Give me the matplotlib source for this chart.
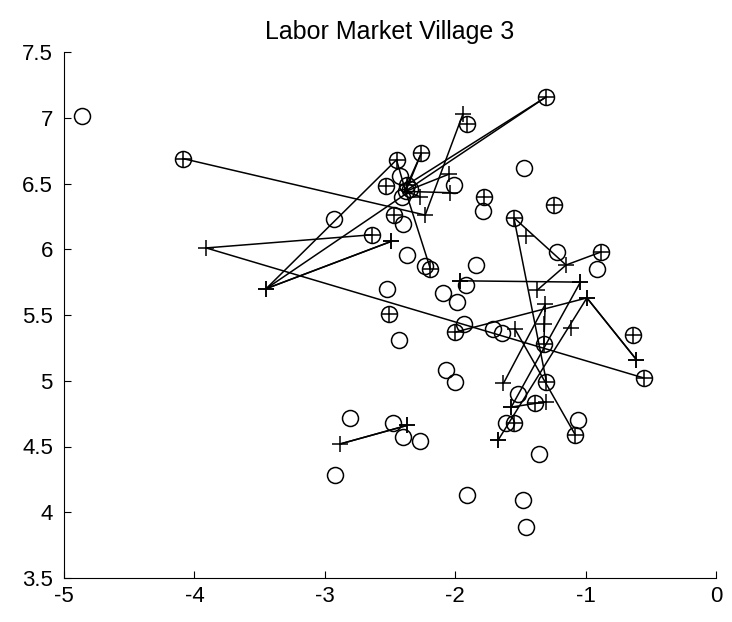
import matplotlib
matplotlib.use("Agg")
import matplotlib.pyplot as plt

# ---- data ----
circle_x = [-4.86, -4.09, -2.93, -2.45, -2.26, -2.42, -2.53, -2.37, -2.38, -2.41, -2.35,
            -2.47, -2.40, -2.64, -2.37, -2.19, -2.23, -2.01, -1.91, -1.30, -1.47, -1.78,
            -1.79, -1.24, -1.55, -1.22, -0.88, -0.91, -1.84, -1.92, -2.52, -2.09, -1.99,
            -2.51, -2.00, -1.93, -1.71, -1.64, -2.43, -0.64, -0.55, -1.32, -2.07, -2.00,
            -1.30, -1.52, -1.39, -1.61, -1.55, -1.06, -1.08, -1.36, -2.81, -2.48, -2.40,
            -2.27, -2.92, -1.91, -1.48, -1.46]
circle_y = [7.01, 6.69, 6.23, 6.68, 6.73, 6.56, 6.48, 6.49, 6.44, 6.40, 6.46,
            6.26, 6.19, 6.11, 5.96, 5.85, 5.87, 6.49, 6.95, 7.16, 6.62, 6.40,
            6.29, 6.34, 6.24, 5.98, 5.98, 5.85, 5.88, 5.73, 5.70, 5.67, 5.60,
            5.51, 5.37, 5.43, 5.39, 5.36, 5.31, 5.35, 5.02, 5.28, 5.08, 4.99,
            4.99, 4.90, 4.83, 4.68, 4.68, 4.70, 4.59, 4.44, 4.72, 4.68, 4.57,
            4.54, 4.28, 4.13, 4.09, 3.89]

plus_x = [-4.09, -2.45, -2.26, -2.53, -2.37, -2.47, -2.64, -2.19, -1.91, -1.30, -1.78,
          -1.24, -1.55, -0.88, -2.51, -2.00, -0.64, -0.55, -1.32, -1.30, -1.39, -1.55,
          -1.08,
          -3.91, -3.45, -3.45, -2.49, -2.49, -1.94, -2.05, -2.04, -2.27, -2.23, -1.46,
          -1.15, -1.04, -1.04, -1.37, -0.99, -0.99, -1.31, -1.32, -1.11, -1.54, -0.61,
          -0.61, -1.63, -1.30, -1.57, -1.57, -1.67, -1.67, -1.96, -1.96, -2.37, -2.37,
          -2.88]
plus_y = [6.69, 6.68, 6.73, 6.48, 6.49, 6.26, 6.11, 5.85, 6.95, 7.16, 6.40,
          6.34, 6.24, 5.98, 5.51, 5.37, 5.35, 5.02, 5.28, 4.99, 4.83, 4.68,
          4.59,
          6.01, 5.70, 5.70, 6.06, 6.06, 7.03, 6.57, 6.43, 6.40, 6.26, 6.10,
          5.88, 5.75, 5.75, 5.69, 5.63, 5.63, 5.58, 5.43, 5.40, 5.39, 5.16,
          5.16, 4.98, 4.84, 4.80, 4.80, 4.55, 4.55, 5.76, 5.76, 4.66, 4.66,
          4.52]

# links between households (from -> to)
link_x1 = [-4.09, -3.91, -3.91, -3.45, -3.45, -3.45, -3.45, -1.30, -1.30, -1.94,
           -2.26, -2.26, -2.38, -2.38, -2.38, -2.45, -2.38, -1.55, -1.15, -1.15,
           -1.55, -1.96, -0.99, -0.99, -2.00, -1.31, -1.54, -1.31, -1.04, -0.99,
           -1.57, -2.88, -2.88]
link_y1 = [6.69, 6.01, 6.01, 5.70, 5.70, 5.70, 5.70, 7.16, 7.16, 7.03,
           6.73, 6.73, 6.44, 6.44, 6.44, 6.68, 6.44, 6.24, 5.88, 5.88,
           6.24, 5.76, 5.63, 5.63, 5.37, 5.58, 5.39, 5.58, 5.75, 5.63,
           4.80, 4.52, 4.52]
link_x2 = [-2.23, -2.64, -0.55, -2.45, -2.38, -2.49, -2.49, -2.37, -2.40, -2.23,
           -2.38, -2.40, -2.05, -2.04, -2.19, -2.38, -2.27, -1.15, -0.88, -1.37,
           -1.30, -1.04, -0.61, -0.61, -0.99, -1.32, -1.08, -1.63, -1.57, -1.67,
           -1.30, -2.37, -2.37]
link_y2 = [6.26, 6.11, 5.02, 6.68, 6.42, 6.06, 6.06, 6.49, 6.43, 6.26,
           6.44, 6.42, 6.57, 6.43, 5.85, 6.44, 6.40, 5.88, 5.98, 5.69,
           4.99, 5.75, 5.16, 5.16, 5.63, 5.28, 4.59, 4.98, 4.80, 4.55,
           4.84, 4.66, 4.66]

x_ticks = [-5, -4, -3, -2, -1, 0]
y_ticks = [3.5, 4, 4.5, 5, 5.5, 6, 6.5, 7, 7.5]
title = "Labor Market Village 3"

# ---- figure ----
plt.rcParams['font.family'] = ['Liberation Sans', 'DejaVu Sans']
plt.rcParams['axes.unicode_minus'] = False

fig = plt.figure(figsize=(7.32, 6.22), dpi=100)
ax = fig.add_axes([64 / 732, 44 / 622, 652 / 732, 526 / 622])

for x1, y1, x2, y2 in zip(link_x1, link_y1, link_x2, link_y2):
    ax.plot([x1, x2], [y1, y2], color='black', lw=1.1, solid_capstyle='round')

ax.plot(circle_x, circle_y, linestyle='none', marker='o', ms=11.5,
        mfc='none', mec='black', mew=1.1)
ax.plot(plus_x, plus_y, linestyle='none', marker='+', ms=11,
        mec='black', mew=1.1)

ax.set_xlim(-5, 0)
ax.set_ylim(3.5, 7.5)
ax.set_xticks(x_ticks)
ax.set_xticklabels([f"{t:g}" for t in x_ticks])
ax.set_yticks(y_ticks)
ax.set_yticklabels([f"{t:g}" for t in y_ticks])

ax.spines['top'].set_visible(False)
ax.spines['right'].set_visible(False)
ax.spines['left'].set_linewidth(0.8)
ax.spines['bottom'].set_linewidth(0.8)
ax.tick_params(direction='in', length=5, width=0.8, labelsize=16)
ax.tick_params(axis='y', pad=8)
ax.tick_params(axis='x', pad=6)

ax.set_title(title, fontsize=18, pad=9)

fig.savefig("out.png", dpi=100)
